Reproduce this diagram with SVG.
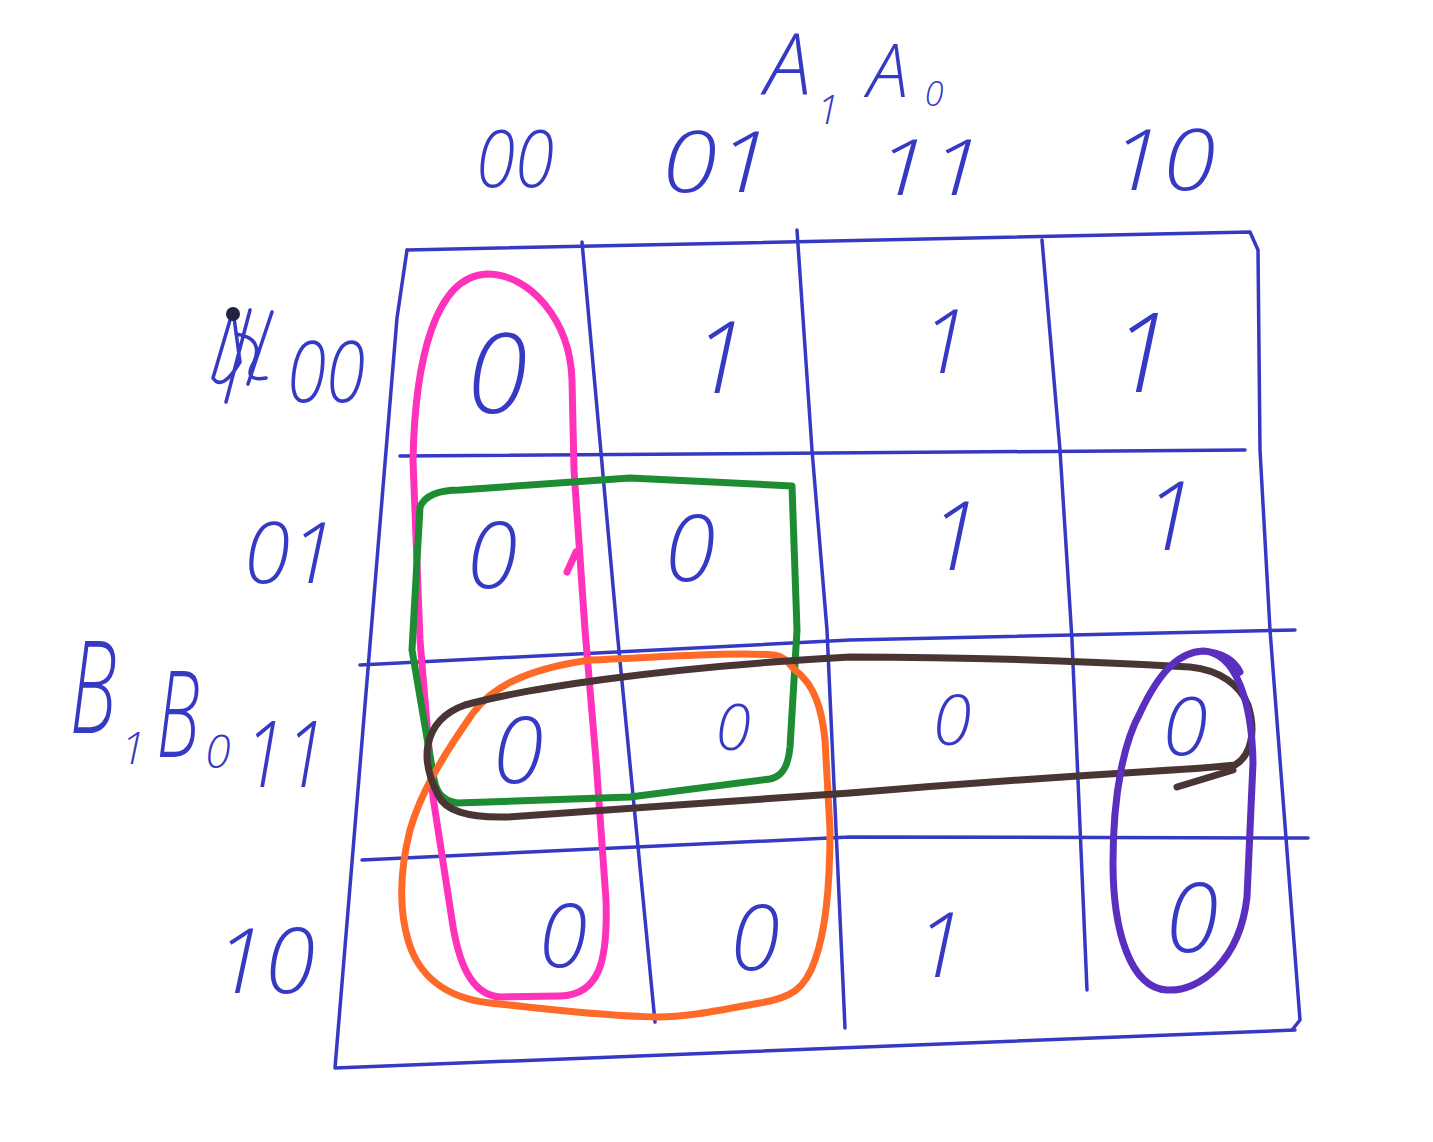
<svg xmlns="http://www.w3.org/2000/svg" width="1433" height="1142" viewBox="0 0 1433 1142">
<style>
.ink{fill:none;stroke:#3639c4;stroke-width:3.5;stroke-linecap:round;stroke-linejoin:round}
.t{font-family:"Open Sans","Liberation Sans",Arial,sans-serif;font-weight:300;font-style:italic;fill:#3639c4;text-anchor:middle}
.loop{fill:none;stroke-width:7;stroke-linecap:round;stroke-linejoin:round}
</style>
<rect width="1433" height="1142" fill="#ffffff"/>
<g id="grid">
<path class="ink" d="M407,250 L1250,232 L1258,250 L1260,450 L1270,630 L1300,1020 L1292,1030"/>
<path class="ink" d="M407,250 L397,318 L335,1068 L1295,1030"/>
<path class="ink" d="M582,242 L617,630 L655,1022"/>
<path class="ink" d="M797,230 L812,450 L827,630 L845,1028"/>
<path class="ink" d="M1042,240 L1060,450 L1072,640 L1087,990"/>
<path class="ink" d="M400,456 L1245,450"/>
<path class="ink" d="M360,665 L850,640 L1295,630"/>
<path class="ink" d="M362,860 L850,837 L1308,838"/>
</g>
<g id="col-labels">
<text class="t" x="788" y="95" font-size="84">A</text>
<text class="t" x="828" y="124" font-size="40">1</text>
<text class="t" x="888" y="97" font-size="74">A</text>
<text class="t" x="934" y="106" font-size="34">0</text>
<text class="t" x="515" y="187" font-size="80" textLength="78" lengthAdjust="spacingAndGlyphs">00</text>
<text class="t" x="717" y="192" font-size="84" textLength="110" lengthAdjust="spacingAndGlyphs">01</text>
<text class="t" x="930" y="195" font-size="78" textLength="108" lengthAdjust="spacingAndGlyphs">11</text>
<text class="t" x="1163" y="190" font-size="84" textLength="105" lengthAdjust="spacingAndGlyphs">10</text>
</g>
<g id="row-labels">
<path class="ink" stroke-width="4" d="M233,310 L213,378 Q222,392 240,362 L233,310 M250,310 L226,402 M272,312 L248,384 M236,334 Q264,338 254,362 Q242,382 266,378"/>
<circle cx="233" cy="314" r="7" fill="#222244"/>
<text class="t" x="326" y="402" font-size="84" textLength="78" lengthAdjust="spacingAndGlyphs">00</text>
<text class="t" x="290" y="583" font-size="84" textLength="92" lengthAdjust="spacingAndGlyphs">01</text>
<text class="t" transform="translate(93,733) scale(0.6,1)" font-size="130">B</text>
<text class="t" x="133" y="764" font-size="44">1</text>
<text class="t" transform="translate(178,757) scale(0.6,1)" font-size="120">B</text>
<text class="t" x="218" y="768" font-size="46">0</text>
<text class="t" x="285" y="787" font-size="92" textLength="82" lengthAdjust="spacingAndGlyphs">11</text>
<text class="t" x="265" y="993" font-size="90" textLength="100" lengthAdjust="spacingAndGlyphs">10</text>
</g>
<g id="cells">
<text class="t" x="497" y="413" font-size="110">0</text>
<text class="t" x="720" y="393" font-size="100">1</text>
<text class="t" x="945" y="373" font-size="88">1</text>
<text class="t" x="1142" y="392" font-size="110">1</text>
<text class="t" x="492" y="588" font-size="92">0</text>
<text class="t" x="690" y="581" font-size="92">0</text>
<text class="t" x="955" y="570" font-size="95">1</text>
<text class="t" x="1170" y="550" font-size="95">1</text>
<text class="t" x="518" y="783" font-size="92">0</text>
<text class="t" x="733" y="750" font-size="64">0</text>
<text class="t" x="952" y="745" font-size="70">0</text>
<text class="t" x="1185" y="755" font-size="82">0</text>
<text class="t" x="563" y="967" font-size="88">0</text>
<text class="t" x="755" y="970" font-size="90">0</text>
<text class="t" x="940" y="977" font-size="90">1</text>
<text class="t" x="1192" y="952" font-size="96">0</text>
</g>
<g id="loops">
<path id="pink" class="loop" stroke="#ff33bb" d="M487,274 C530,274 570,320 572,380 L574,470 L585,630 L596,760 L606,900 C608,960 600,995 560,996 L500,997 C470,995 458,960 452,920 L433,797 L420,640 L413,460 C415,360 435,276 487,274 Z M567,572 L576,552"/>
<path id="green" class="loop" stroke="#1e8c32" d="M420,507 C425,495 440,490 460,490 L630,478 L792,486 L797,630 L790,747 C788,770 780,777 770,779 L630,797 L457,803 C440,800 435,790 433,773 L412,650 L420,507 Z"/>
<path id="orange" class="loop" stroke="#ff6a28" d="M590,660 C680,656 740,652 773,655 C785,656 790,665 795,670 C815,685 822,710 825,740 L830,830 C830,880 826,930 815,960 C805,990 790,998 760,1003 C720,1010 690,1017 657,1017 C600,1016 540,1008 490,1003 C445,998 418,975 408,940 C398,905 400,870 410,830 C420,795 440,760 473,713 C490,690 520,670 590,660 Z"/>
<path id="brown" class="loop" stroke="#4a3535" d="M850,657 C950,657 1050,659 1190,667 C1220,670 1240,685 1248,705 C1256,730 1252,755 1235,765 C1200,770 1100,772 850,793 C750,800 600,810 507,817 C465,818 445,810 438,795 C428,775 425,760 428,745 C432,725 445,712 465,705 C520,690 650,668 850,657 Z M1233,770 L1177,787"/>
<path id="purple" class="loop" stroke="#5a2fc0" d="M1203,651 C1235,652 1252,700 1253,763 L1247,897 C1240,960 1200,992 1167,990 C1130,988 1113,930 1113,863 C1113,790 1125,740 1140,713 C1160,670 1180,652 1203,651 C1225,653 1235,662 1240,672"/>
</g>
</svg>
